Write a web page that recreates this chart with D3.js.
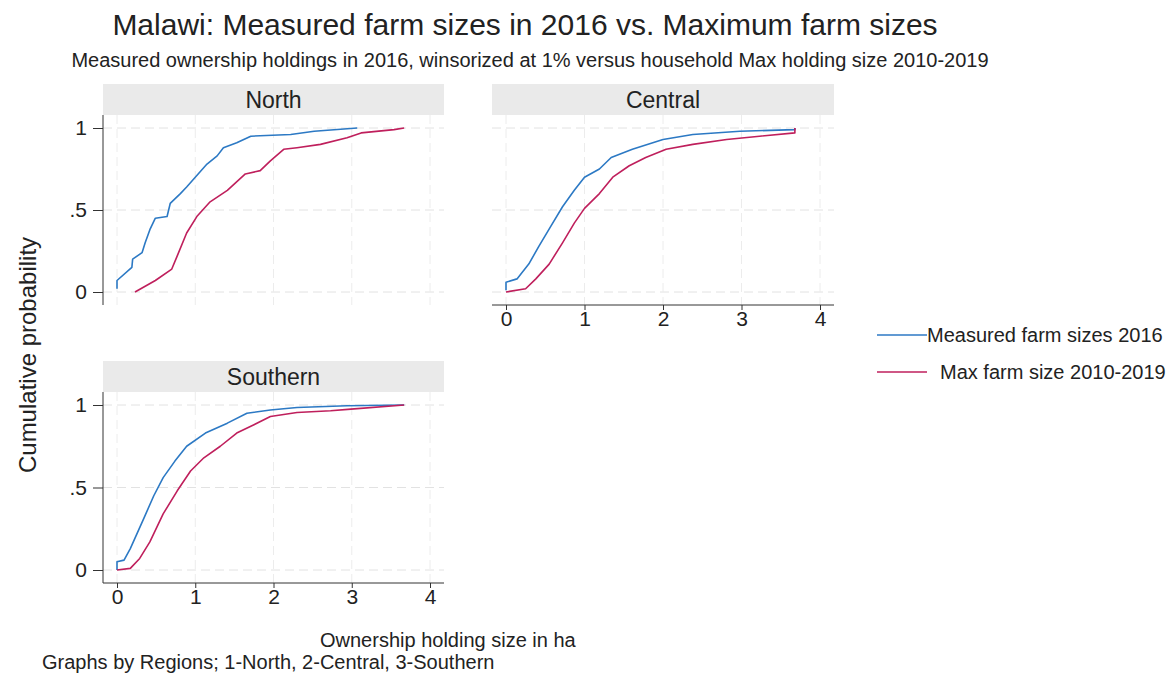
<!DOCTYPE html>
<html>
<head>
<meta charset="utf-8">
<script src="https://cdn.jsdelivr.net/npm/d3@7"></script>
<style>
  html, body { margin: 0; padding: 0; background: #fff; }
  svg { display: block; font-family: "Liberation Sans", Arial, Helvetica, sans-serif; }
</style>
</head>
<body>
<svg id="chart" width="1173" height="675"></svg>
<script>
// Empirical CDFs of farm size (ha) by region, two measures each
const regions = ["North", "Central", "Southern"];
const seriesNames = ["Measured farm sizes 2016", "Max farm size 2010-2019"];
const xTicks = [0, 1, 2, 3, 4];
const yTicks = [0, 0.5, 1];
const yTickLabels = ["0", ".5", "1"];

const northMeasuredX = [0, 0, 0.19, 0.2, 0.32, 0.36, 0.42, 0.49, 0.64, 0.68, 0.81, 0.89, 1.02, 1.15, 1.28, 1.36, 1.53, 1.71, 2.22, 2.52, 3.07];
const northMeasuredP = [0.02, 0.07, 0.15, 0.2, 0.24, 0.30, 0.38, 0.45, 0.46, 0.54, 0.60, 0.64, 0.71, 0.78, 0.83, 0.88, 0.91, 0.95, 0.96, 0.98, 1.0];
const northMaxX = [0.23, 0.49, 0.70, 0.77, 0.89, 1.02, 1.19, 1.41, 1.64, 1.83, 1.96, 2.13, 2.30, 2.60, 2.94, 3.12, 3.54, 3.67];
const northMaxP = [0.0, 0.07, 0.14, 0.22, 0.36, 0.46, 0.55, 0.62, 0.72, 0.74, 0.80, 0.87, 0.88, 0.90, 0.94, 0.97, 0.99, 1.0];

const centralMeasuredX = [0, 0, 0.14, 0.29, 0.42, 0.57, 0.72, 0.87, 1.0, 1.19, 1.34, 1.61, 2.0, 2.38, 2.98, 3.68, 3.68];
const centralMeasuredP = [0.01, 0.06, 0.08, 0.17, 0.28, 0.40, 0.52, 0.62, 0.70, 0.75, 0.82, 0.87, 0.93, 0.96, 0.98, 0.99, 1.0];
const centralMaxX = [0, 0.25, 0.38, 0.55, 0.72, 0.87, 1.0, 1.19, 1.36, 1.57, 1.78, 2.04, 2.38, 2.81, 3.23, 3.68, 3.68];
const centralMaxP = [0.0, 0.02, 0.08, 0.17, 0.30, 0.42, 0.51, 0.60, 0.70, 0.77, 0.82, 0.87, 0.90, 0.93, 0.95, 0.97, 1.0];

const southernMeasuredX = [0, 0, 0.09, 0.17, 0.34, 0.47, 0.59, 0.74, 0.89, 1.13, 1.41, 1.66, 1.96, 2.30, 2.94, 3.67];
const southernMeasuredP = [0.0, 0.05, 0.06, 0.13, 0.31, 0.45, 0.56, 0.66, 0.75, 0.83, 0.89, 0.95, 0.97, 0.985, 0.995, 1.0];
const southernMaxX = [0, 0.17, 0.29, 0.42, 0.59, 0.77, 0.94, 1.11, 1.32, 1.53, 1.75, 1.96, 2.30, 2.73, 2.99, 3.67];
const southernMaxP = [0.0, 0.01, 0.07, 0.17, 0.34, 0.48, 0.60, 0.68, 0.75, 0.83, 0.88, 0.93, 0.955, 0.965, 0.975, 1.0];

const colors = ["#2c79c4", "#bf1f5c"];
const textColor = "#222";

const svg = d3.select("#chart");

// Panel frames: plot area plus its header strip
const panels = [
  { name: regions[0], left: 103, right: 444, top: 115, bottom: 305, yAxis: true,  xAxis: false,
    series: [[northMeasuredX, northMeasuredP], [northMaxX, northMaxP]] },
  { name: regions[1], left: 492, right: 834, top: 115, bottom: 305, yAxis: false, xAxis: true,
    series: [[centralMeasuredX, centralMeasuredP], [centralMaxX, centralMaxP]] },
  { name: regions[2], left: 103, right: 444, top: 392, bottom: 583, yAxis: true,  xAxis: true,
    series: [[southernMeasuredX, southernMeasuredP], [southernMaxX, southernMaxP]] }
];
const headerH = 31;

panels.forEach(p => {
  const x = d3.scaleLinear().domain([0, 4]).range([p.left + 14, p.right - 14]);
  const y = d3.scaleLinear().domain([0, 1]).range([p.bottom - 13, p.top + 13]);
  const g = svg.append("g");

  // header strip
  g.append("rect")
    .attr("x", p.left).attr("y", p.top - headerH)
    .attr("width", p.right - p.left).attr("height", headerH)
    .attr("fill", "#eaeaea");
  g.append("text")
    .attr("x", (p.left + p.right) / 2).attr("y", p.top - headerH / 2)
    .attr("dy", "0.36em").attr("text-anchor", "middle")
    .attr("font-size", 23).attr("fill", textColor)
    .text(p.name);

  // dashed grid
  g.append("g").selectAll("line").data(yTicks).join("line")
    .attr("x1", p.left).attr("x2", p.right)
    .attr("y1", d => y(d)).attr("y2", d => y(d))
    .attr("stroke", "#e2e2e2").attr("stroke-width", 1)
    .attr("stroke-dasharray", "9,5");
  g.append("g").selectAll("line").data(xTicks).join("line")
    .attr("x1", d => x(d)).attr("x2", d => x(d))
    .attr("y1", p.top).attr("y2", p.bottom)
    .attr("stroke", "#ececec").attr("stroke-width", 1)
    .attr("stroke-dasharray", "9,5");

  // y axis
  if (p.yAxis) {
    const ya = g.append("g").attr("transform", `translate(${p.left},0)`)
      .call(d3.axisLeft(y).tickValues(yTicks)
        .tickFormat((d, i) => yTickLabels[i]).tickSize(10).tickPadding(6).tickSizeOuter(0));
    ya.select(".domain").remove();
    ya.selectAll(".tick line").attr("stroke", "#333");
    ya.selectAll(".tick text").attr("font-size", 21).attr("fill", textColor)
      .attr("font-family", "Liberation Sans, Arial, sans-serif");
    g.append("line").attr("x1", p.left).attr("x2", p.left)
      .attr("y1", p.top).attr("y2", p.bottom).attr("stroke", "#333");
  }

  // x axis
  if (p.xAxis) {
    const xa = g.append("g").attr("transform", `translate(0,${p.bottom})`)
      .call(d3.axisBottom(x).tickValues(xTicks).tickFormat(d3.format("d"))
        .tickSize(5).tickPadding(1).tickSizeOuter(0));
    xa.select(".domain").remove();
    xa.selectAll(".tick line").attr("stroke", "#333");
    xa.selectAll(".tick text").attr("font-size", 21).attr("fill", textColor)
      .attr("font-family", "Liberation Sans, Arial, sans-serif");
    g.append("line").attr("x1", p.left).attr("x2", p.right)
      .attr("y1", p.bottom).attr("y2", p.bottom).attr("stroke", "#333");
  }

  // CDF lines
  const line = d3.line().x(d => x(d[0])).y(d => y(d[1]));
  p.series.forEach(([xs, ps], i) => {
    const pts = xs.map((v, k) => [v, ps[k]]);
    g.append("path").datum(pts)
      .attr("d", line).attr("fill", "none")
      .attr("stroke", colors[i]).attr("stroke-width", 1.6)
      .attr("stroke-linejoin", "round");
  });
});

// Titles and labels
svg.append("text").attr("x", 525).attr("y", 35).attr("text-anchor", "middle")
  .attr("font-size", 30).attr("fill", textColor)
  .text("Malawi: Measured farm sizes in 2016 vs. Maximum farm sizes");
svg.append("text").attr("x", 530).attr("y", 67).attr("text-anchor", "middle")
  .attr("font-size", 20).attr("fill", textColor)
  .text("Measured ownership holdings in 2016, winsorized at 1% versus household Max holding size 2010-2019");
svg.append("text")
  .attr("transform", "translate(27,355) rotate(-90)")
  .attr("text-anchor", "middle").attr("dy", "0.36em")
  .attr("font-size", 24).attr("fill", textColor)
  .text("Cumulative probability");
svg.append("text").attr("x", 320).attr("y", 640).attr("dy", "0.36em")
  .attr("font-size", 20).attr("fill", textColor)
  .text("Ownership holding size in ha");
svg.append("text").attr("x", 42).attr("y", 662).attr("dy", "0.36em")
  .attr("font-size", 20).attr("fill", textColor)
  .text("Graphs by Regions; 1-North, 2-Central, 3-Southern");

// Legend
const legendRows = [
  { y: 335, textX: 927 },
  { y: 372, textX: 940 }
];
legendRows.forEach((r, i) => {
  svg.append("line").attr("x1", 877).attr("x2", 927)
    .attr("y1", r.y).attr("y2", r.y)
    .attr("stroke", colors[i]).attr("stroke-width", 1.6);
  svg.append("text").attr("x", r.textX).attr("y", r.y).attr("dy", "0.36em")
    .attr("font-size", 20).attr("fill", textColor)
    .text(seriesNames[i]);
});
</script>
</body>
</html>
